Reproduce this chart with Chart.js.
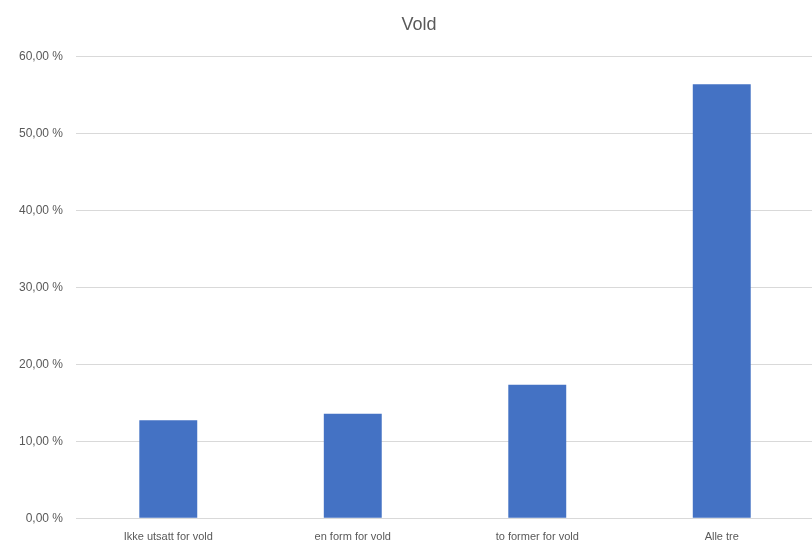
<!DOCTYPE html>
<html>
<head>
<meta charset="utf-8">
<script src="https://cdn.jsdelivr.net/npm/chart.js@4"></script>
<style>
  html, body { margin: 0; padding: 0; background: #fff; overflow: hidden; }
  #wrap { width: 814px; height: 547px; }
</style>
</head>
<body>
<div id="wrap"><canvas id="myChart"></canvas></div>
<script>
const categories = ['Ikke utsatt for vold', 'en form for vold', 'to former for vold', 'Alle tre'];
const values = [12.75, 13.6, 17.35, 56.4];
const yTicks = [0, 10, 20, 30, 40, 50, 60];

const textColor = '#595959';
const gridColor = '#d9d9d9';

// the title in the original sits a bit right of the canvas centre
const shiftTitle = {
  id: 'shiftTitle',
  afterLayout(chart) {
    const t = chart.titleBlock;
    if (t) { t.left += 9; t.right += 9; }
  }
};

const config = {
  type: 'bar',
  data: {
    labels: categories,
    datasets: [{
      label: 'Vold',
      data: values,
      backgroundColor: '#4472c4',
      borderWidth: 0,
      categoryPercentage: 1,
      barPercentage: 0.314
    }]
  },
  options: {
    responsive: true,
    maintainAspectRatio: false,
    animation: false,
    layout: { padding: { left: 6, right: 0, top: 0, bottom: -9.5 } },
    plugins: {
      legend: { display: false },
      tooltip: { enabled: false },
      title: {
        display: true,
        text: 'Vold',
        color: textColor,
        font: { family: 'Liberation Sans', size: 18, weight: 'normal' },
        padding: { top: 14, bottom: 21 }
      }
    },
    scales: {
      x: {
        grid: { display: false, drawTicks: false },
        border: { display: false },
        ticks: {
          color: textColor,
          font: { family: 'Liberation Sans', size: 11 },
          padding: 12.5,
          maxRotation: 0
        }
      },
      y: {
        min: 0,
        max: 60,
        afterBuildTicks: (axis) => { axis.ticks = yTicks.map(v => ({ value: v })); },
        grid: { color: gridColor, lineWidth: 1, drawTicks: false },
        border: { display: false },
        ticks: {
          color: textColor,
          font: { family: 'Liberation Sans', size: 12 },
          padding: 13,
          callback: (v) => v.toFixed(2).replace('.', ',') + ' %'
        }
      }
    }
  },
  plugins: [shiftTitle]
};

const myChart = new Chart(document.getElementById('myChart'), config);
</script>
</body>
</html>
